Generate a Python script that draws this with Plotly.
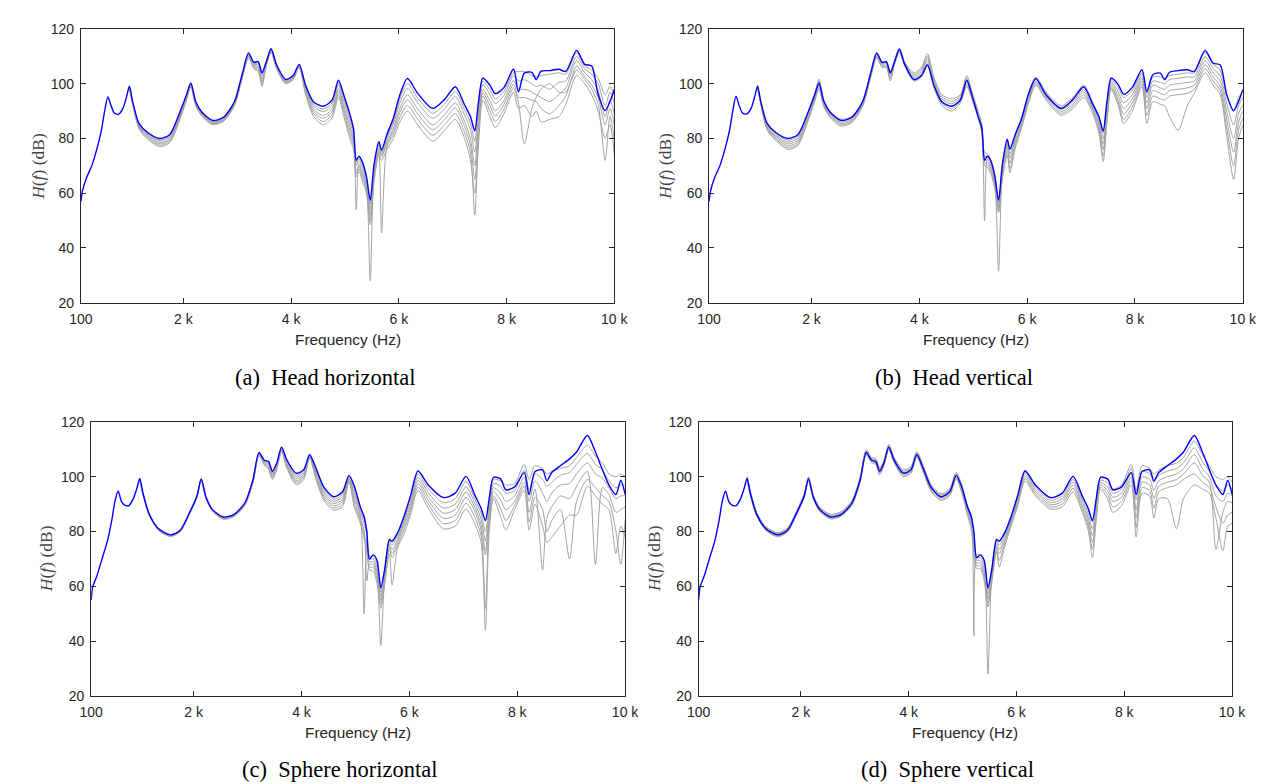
import plotly.graph_objects as go

# ---------------- data ----------------
FREQ = [100, 130, 200, 300, 400, 480, 540, 600, 660, 720,
        800, 880, 950, 1000, 1060, 1180, 1350, 1570, 1750, 1920,
        2060, 2140, 2230, 2350, 2550, 2750, 2950, 3100, 3210, 3310,
        3390, 3460, 3540, 3630, 3730, 3900, 4040, 4150, 4270, 4420,
        4600, 4760, 4880, 4980, 5090, 5160, 5210, 5260, 5330, 5400,
        5470, 5540, 5630, 5680, 5780, 5900, 6020, 6160, 6350, 6630,
        6850, 7050, 7220, 7330, 7410, 7480, 7560, 7690, 7790, 7950,
        8130, 8220, 8330, 8470, 8550, 8640, 8800, 8970, 9100, 9300,
        9450, 9580, 9700, 9830, 9920, 10000]
GRAY_START = 13  # grey curves are given from 1000 Hz upward (identical to blue below)

X_TICKS = [100, 2000, 4000, 6000, 8000, 10000]
X_TICK_TEXT = ["100", "2 k", "4 k", "6 k", "8 k", "10 k"]
Y_TICKS = [20, 40, 60, 80, 100, 120]

BLUE_A = [57.0, 61.0, 65.5, 70.0, 76.5, 83.0, 90.0, 95.2, 92.0, 89.3,
          88.9, 91.0, 95.5, 99.1, 93.5, 85.4, 82.0, 80.0, 81.5, 88.8,
          96.0, 100.3, 93.5, 89.5, 86.6, 87.8, 93.5, 104.0, 111.3, 107.8,
          108.1, 104.0, 108.0, 112.8, 107.0, 101.6, 103.0, 107.1, 99.5, 93.3,
          91.8, 94.0, 101.3, 95.8, 89.0, 83.5, 72.0, 73.5, 71.1, 66.0,
          57.4, 70.5, 78.8, 75.8, 81.5, 87.5, 96.0, 101.9, 96.5, 91.0,
          94.3, 98.9, 92.3, 88.0, 82.8, 93.5, 102.1, 99.5, 96.4, 98.6,
          105.4, 97.0, 103.9, 104.2, 101.5, 104.6, 104.8, 105.3, 104.5, 112.2,
          107.1, 106.5, 96.1, 90.2, 93.5, 97.9]

BLUE_B = [57.0, 61.0, 65.5, 70.0, 76.5, 83.0, 90.0, 95.5, 92.0, 89.3,
          89.0, 91.0, 95.5, 99.1, 93.5, 85.4, 82.0, 80.0, 81.5, 88.8,
          96.0, 100.3, 93.5, 89.5, 86.6, 87.8, 93.5, 104.0, 111.2, 107.8,
          108.0, 104.0, 108.0, 112.6, 107.0, 101.5, 103.0, 106.9, 99.5, 93.3,
          91.8, 94.0, 101.3, 95.5, 88.0, 83.8, 72.0, 73.5, 71.7, 66.3,
          57.4, 70.5, 79.7, 76.1, 81.5, 87.5, 96.0, 101.9, 96.0, 91.0,
          94.3, 98.9, 92.4, 88.0, 82.8, 93.5, 102.1, 99.7, 96.2, 98.7,
          105.1, 97.1, 103.3, 103.9, 101.5, 104.2, 104.8, 105.1, 104.5, 112.2,
          107.5, 106.9, 96.1, 90.2, 93.5, 97.9]

BLUE_C = [55.0, 60.0, 63.5, 70.0, 76.5, 84.0, 91.0, 94.8, 91.0, 89.6,
          89.5, 92.0, 96.0, 99.4, 94.0, 86.2, 81.0, 78.8, 80.5, 86.8,
          93.0, 99.2, 92.5, 88.0, 85.3, 86.3, 90.5, 99.0, 108.8, 106.0,
          105.5, 102.0, 105.0, 110.8, 106.0, 101.3, 102.5, 108.0, 103.0, 96.0,
          92.7, 94.5, 100.5, 96.5, 89.0, 85.5, 80.0, 70.0, 71.5, 69.5,
          59.5, 66.0, 77.0, 76.5, 79.5, 85.5, 93.0, 102.1, 97.0, 92.4,
          94.0, 100.1, 93.0, 88.5, 84.0, 92.0, 99.8, 99.2, 95.2, 96.3,
          101.5, 93.5, 101.9, 102.5, 98.5, 101.5, 104.0, 106.5, 109.0, 115.0,
          109.0, 102.5, 97.0, 93.5, 98.7, 93.6]

BLUE_D = [55.0, 60.0, 63.5, 70.0, 76.5, 84.0, 91.0, 94.8, 91.0, 89.6,
          89.5, 92.0, 96.0, 99.4, 94.0, 86.2, 81.0, 78.8, 80.5, 86.8,
          93.0, 99.2, 92.5, 88.0, 85.3, 86.3, 90.5, 99.0, 108.8, 106.0,
          105.5, 102.0, 105.0, 110.8, 106.0, 101.3, 102.5, 108.0, 103.0, 96.0,
          92.7, 94.5, 100.5, 96.5, 89.0, 85.5, 80.0, 70.5, 71.5, 69.5,
          59.5, 66.0, 77.0, 76.5, 79.5, 85.5, 93.0, 102.1, 97.0, 92.4,
          94.0, 100.1, 93.0, 88.5, 84.0, 92.0, 99.8, 99.2, 95.2, 96.3,
          101.5, 93.5, 101.9, 102.5, 98.5, 101.5, 104.0, 106.5, 109.0, 115.0,
          109.0, 102.5, 97.0, 93.5, 98.7, 93.6]

# rows: one row per frequency (from 1000 Hz), columns: six grey curves
GRAY_A = [
    [99.0, 98.9, 98.8, 98.7, 98.6, 98.5], [93.3, 93.2, 93.0, 92.8, 92.7, 92.5],
    [85.1, 84.8, 84.5, 84.2, 83.8, 83.5], [81.6, 81.2, 80.8, 80.4, 80.0, 79.5],
    [79.5, 79.1, 78.5, 78.0, 77.5, 77.0], [81.0, 80.6, 80.0, 79.5, 79.0, 78.5],
    [88.4, 88.0, 87.4, 87.0, 86.5, 86.0], [95.7, 95.4, 95.0, 94.7, 94.4, 94.0],
    [100.1, 99.9, 99.7, 99.5, 99.2, 99.0], [93.3, 93.0, 92.8, 92.5, 92.3, 92.0],
    [89.3, 89.0, 88.8, 88.5, 88.3, 88.0], [86.4, 86.1, 85.8, 85.5, 85.3, 85.0],
    [87.6, 87.3, 87.0, 86.8, 86.5, 86.3], [93.3, 93.0, 92.8, 92.5, 92.3, 92.0],
    [103.8, 103.5, 103.3, 103.0, 102.8, 102.5], [111.0, 110.8, 110.4, 110.1, 109.8, 109.5],
    [107.5, 107.1, 106.7, 106.3, 105.9, 105.5], [107.6, 107.0, 106.3, 105.8, 105.1, 104.5],
    [103.3, 102.5, 101.5, 100.8, 99.9, 99.0], [107.8, 107.5, 107.3, 107.0, 106.8, 106.5],
    [112.6, 112.4, 112.2, 112.0, 111.7, 111.5], [106.8, 106.5, 106.3, 106.0, 105.8, 105.5],
    [101.4, 101.1, 100.8, 100.6, 100.3, 100.0], [102.8, 102.5, 102.3, 102.0, 101.8, 101.5],
    [106.9, 106.8, 106.6, 106.4, 106.2, 106.0], [99.0, 98.5, 97.8, 97.2, 96.6, 96.0],
    [92.5, 91.7, 90.7, 89.9, 89.0, 88.0], [90.8, 89.8, 88.4, 87.4, 86.2, 85.0],
    [93.0, 92.0, 90.8, 89.8, 88.7, 87.5], [100.4, 99.4, 98.2, 97.2, 96.1, 95.0],
    [94.6, 93.5, 91.9, 90.7, 89.4, 88.0], [87.7, 86.3, 84.5, 83.2, 81.6, 80.0],
    [82.4, 81.3, 79.8, 78.6, 77.3, 76.0], [71.1, 70.2, 54.0, 68.1, 67.1, 66.0],
    [72.7, 71.9, 70.8, 69.9, 69.0, 68.0], [70.0, 69.0, 67.6, 66.5, 65.3, 64.0],
    [65.1, 64.2, 63.0, 62.1, 61.1, 60.0], [56.0, 54.0, 52.0, 28.0, 50.0, 48.5],
    [69.5, 68.5, 67.3, 66.3, 65.3, 64.0], [78.1, 77.4, 76.4, 75.7, 74.9, 74.0],
    [75.2, 74.6, 73.9, 73.3, 45.5, 72.0], [80.7, 79.9, 78.8, 77.9, 77.0, 76.0],
    [86.4, 85.3, 83.8, 82.6, 81.4, 80.0], [94.5, 93.0, 91.0, 89.5, 87.8, 86.0],
    [100.1, 98.3, 96.0, 94.2, 92.1, 90.0], [94.8, 93.1, 90.8, 89.0, 87.1, 85.0],
    [89.2, 87.4, 85.0, 83.2, 81.2, 79.0], [92.6, 90.9, 88.7, 86.9, 85.0, 83.0],
    [97.1, 95.3, 93.0, 91.2, 89.1, 87.0], [90.5, 88.6, 86.2, 84.3, 82.2, 80.0],
    [85.6, 83.2, 80.0, 77.6, 74.9, 72.0], [79.0, 75.0, 70.0, 65.0, 52.0, 60.0],
    [91.2, 88.9, 85.8, 83.4, 80.8, 78.0], [100.9, 99.7, 98.0, 96.8, 95.5, 94.0],
    [97.8, 96.1, 93.8, 92.0, 90.1, 88.0], [94.5, 92.7, 90.2, 88.3, 86.2, 84.0],
    [97.2, 95.7, 93.8, 92.4, 90.7, 89.0], [104.1, 102.9, 101.2, 99.9, 98.5, 97.0],
    [104.5, 101.0, 98.0, 95.0, 93.0, 91.0], [104.5, 101.5, 98.0, 95.0, 78.0, 92.0],
    [103.0, 100.0, 97.0, 94.0, 91.0, 88.0], [102.5, 99.0, 96.0, 93.5, 95.0, 90.0],
    [103.0, 99.5, 95.0, 91.0, 98.0, 86.0], [103.5, 98.0, 93.5, 89.0, 100.0, 87.0],
    [104.0, 100.5, 96.0, 92.0, 97.0, 88.0], [103.5, 101.0, 98.5, 95.5, 97.0, 92.5],
    [111.5, 110.0, 108.5, 106.5, 105.0, 103.0], [106.5, 105.5, 104.0, 102.5, 101.5, 100.0],
    [105.0, 103.5, 101.5, 99.5, 98.0, 96.0], [102.0, 100.0, 97.5, 95.0, 92.5, 90.0],
    [96.0, 92.0, 88.0, 85.0, 72.0, 80.0], [99.0, 97.0, 94.0, 91.0, 88.0, 85.0],
    [96.0, 93.0, 89.0, 85.0, 80.0, 74.0],
]

GRAY_B = [
    [99.5, 99.3, 99.0, 98.8, 98.6, 98.5], [93.4, 93.2, 93.0, 92.8, 92.6, 92.5],
    [85.0, 84.6, 84.2, 83.8, 83.4, 83.0], [81.5, 81.0, 80.5, 80.0, 79.5, 79.0],
    [79.4, 78.7, 78.0, 77.3, 76.6, 76.0], [80.9, 80.2, 79.5, 78.8, 78.1, 77.5],
    [88.5, 87.9, 87.2, 86.6, 86.0, 85.5], [96.5, 96.0, 95.2, 94.6, 94.0, 93.5],
    [101.7, 101.0, 100.2, 99.4, 98.7, 98.0], [94.0, 93.5, 93.0, 92.5, 92.0, 91.5],
    [89.8, 89.3, 88.8, 88.4, 88.0, 87.5], [87.0, 86.5, 86.0, 85.5, 85.0, 84.5],
    [88.0, 87.5, 87.0, 86.6, 86.2, 85.8], [93.8, 93.4, 93.0, 92.6, 92.2, 91.8],
    [104.5, 104.0, 103.6, 103.2, 102.8, 102.5], [111.5, 111.0, 110.6, 110.2, 109.8, 109.5],
    [108.0, 107.6, 107.2, 106.8, 106.4, 106.0], [108.3, 107.8, 107.4, 106.9, 106.4, 106.0],
    [104.5, 103.8, 103.1, 102.4, 101.7, 101.0], [108.5, 108.2, 107.9, 107.6, 107.3, 107.0],
    [113.0, 112.7, 112.4, 112.1, 111.8, 111.5], [108.0, 107.7, 107.4, 107.1, 106.8, 106.5],
    [104.0, 103.4, 102.8, 102.2, 101.6, 101.0], [106.0, 105.3, 104.6, 103.9, 103.2, 102.5],
    [111.0, 110.1, 109.2, 108.3, 107.4, 106.5], [102.5, 101.7, 100.9, 100.1, 99.3, 98.5],
    [96.0, 95.2, 94.4, 93.6, 92.8, 92.0], [94.5, 93.6, 92.7, 91.8, 90.9, 90.0],
    [96.0, 95.4, 94.8, 94.2, 93.6, 93.0], [103.0, 102.2, 101.4, 100.6, 99.8, 99.0],
    [97.0, 96.4, 95.8, 95.2, 94.6, 94.0], [90.0, 89.5, 89.0, 88.5, 88.0, 87.5],
    [85.0, 84.4, 83.8, 83.2, 82.6, 82.0], [75.0, 73.5, 50.0, 72.5, 71.0, 70.0],
    [74.5, 73.5, 72.5, 71.5, 70.5, 69.5], [72.0, 71.0, 70.0, 69.0, 68.0, 67.0],
    [66.5, 65.5, 64.5, 63.5, 62.5, 61.5], [56.5, 55.5, 31.5, 54.5, 53.5, 53.0],
    [70.0, 69.0, 68.0, 67.0, 66.0, 65.0], [80.0, 79.0, 78.0, 77.0, 75.5, 74.0],
    [76.0, 74.5, 73.0, 71.0, 69.0, 67.5], [81.5, 80.5, 79.5, 78.5, 77.5, 76.5],
    [87.5, 86.8, 86.0, 85.3, 84.6, 84.0], [96.0, 95.3, 94.6, 94.0, 93.3, 92.5],
    [102.5, 101.8, 101.1, 100.5, 100.0, 99.5], [97.0, 96.4, 95.8, 95.2, 94.6, 94.0],
    [92.0, 91.3, 90.6, 89.9, 89.2, 88.5], [95.0, 94.2, 93.4, 92.6, 91.8, 91.0],
    [99.5, 98.6, 97.8, 96.9, 96.0, 95.0], [93.0, 92.2, 91.4, 90.6, 89.8, 89.0],
    [88.0, 86.8, 85.6, 84.4, 83.2, 82.0], [82.0, 80.0, 78.0, 76.0, 73.5, 71.5],
    [93.0, 91.5, 90.0, 88.5, 87.0, 86.0], [101.5, 100.8, 100.0, 99.2, 98.5, 98.0],
    [98.5, 97.0, 95.5, 94.0, 93.0, 92.0], [95.0, 93.0, 91.0, 89.0, 87.0, 85.5],
    [97.5, 96.0, 94.5, 93.0, 91.5, 90.0], [104.0, 103.0, 102.0, 101.0, 100.0, 99.0],
    [96.5, 95.0, 93.0, 91.0, 88.5, 85.5], [102.5, 101.0, 99.5, 97.5, 95.5, 93.5],
    [102.5, 100.5, 98.5, 96.5, 94.5, 92.5], [102.0, 100.0, 98.0, 96.0, 94.0, 92.0],
    [103.0, 101.5, 99.5, 97.5, 95.5, 88.0], [103.5, 102.0, 100.0, 98.0, 96.0, 83.0],
    [104.0, 102.5, 100.5, 98.5, 96.5, 92.0], [104.0, 102.5, 101.0, 99.5, 98.0, 96.5],
    [111.5, 110.0, 108.5, 107.0, 105.5, 104.0], [107.0, 105.5, 104.0, 102.5, 101.0, 99.5],
    [105.0, 103.0, 101.0, 99.0, 97.5, 96.0], [96.0, 93.0, 90.0, 87.0, 84.0, 81.0],
    [90.0, 85.0, 80.0, 75.0, 70.0, 65.0], [95.0, 92.0, 89.0, 86.0, 83.0, 80.0],
    [97.0, 95.0, 92.5, 90.0, 87.5, 85.0],
]

GRAY_C = [
    [99.3, 99.2, 99.1, 99.0, 98.9, 98.8], [93.9, 93.8, 93.7, 93.6, 93.5, 93.4],
    [86.1, 86.0, 85.9, 85.8, 85.7, 85.6], [80.9, 80.8, 80.7, 80.6, 80.5, 80.4],
    [78.7, 78.6, 78.5, 78.4, 78.3, 78.2], [80.4, 80.3, 80.2, 80.1, 80.0, 79.9],
    [86.7, 86.6, 86.5, 86.4, 86.3, 86.2], [92.9, 92.8, 92.7, 92.6, 92.5, 92.4],
    [99.1, 99.0, 98.9, 98.8, 98.7, 98.6], [92.4, 92.3, 92.2, 92.1, 92.0, 91.9],
    [87.9, 87.8, 87.7, 87.6, 87.5, 87.4], [85.2, 85.0, 84.9, 84.8, 84.7, 84.5],
    [86.2, 86.0, 85.9, 85.8, 85.7, 85.5], [90.4, 90.2, 90.0, 89.9, 89.7, 89.5],
    [98.8, 98.6, 98.4, 98.2, 98.0, 97.8], [108.6, 108.4, 108.2, 108.0, 107.8, 107.6],
    [105.7, 105.4, 105.1, 104.8, 104.5, 104.2], [105.0, 104.5, 104.0, 103.5, 103.0, 102.5],
    [101.5, 101.0, 100.5, 100.0, 99.5, 99.0], [104.6, 104.2, 103.8, 103.4, 103.0, 102.6],
    [110.5, 110.2, 109.9, 109.6, 109.3, 109.0], [105.5, 105.0, 104.5, 104.0, 103.5, 103.0],
    [100.6, 99.9, 99.2, 98.5, 97.8, 97.1], [101.9, 101.3, 100.7, 100.1, 99.5, 98.9],
    [107.8, 107.6, 107.4, 107.2, 107.0, 106.8], [102.3, 101.6, 100.9, 100.2, 99.5, 98.8],
    [95.2, 94.4, 93.6, 92.8, 92.0, 91.2], [91.8, 91.0, 90.2, 89.4, 88.6, 87.8],
    [93.6, 92.7, 91.8, 90.9, 90.0, 89.1], [100.1, 99.7, 99.3, 98.9, 98.5, 98.1],
    [95.2, 93.9, 92.6, 91.3, 90.0, 88.7], [88.0, 87.0, 86.0, 85.0, 84.0, 83.0],
    [84.5, 83.0, 50.0, 80.5, 79.0, 77.5], [81.0, 79.0, 77.0, 62.0, 75.0, 73.0],
    [71.0, 70.0, 69.0, 68.0, 67.0, 66.0], [71.0, 70.0, 69.0, 68.0, 67.0, 65.5],
    [68.5, 67.0, 65.5, 64.0, 62.5, 61.0], [58.0, 56.5, 55.0, 38.5, 53.5, 52.0],
    [65.5, 64.5, 63.5, 62.5, 61.5, 60.5], [77.5, 76.5, 75.5, 74.5, 73.5, 72.0],
    [76.0, 75.0, 73.5, 72.0, 70.5, 60.5], [79.0, 78.0, 77.0, 76.0, 75.0, 74.0],
    [85.0, 84.0, 83.0, 82.0, 80.5, 79.0], [92.0, 90.8, 89.6, 88.4, 87.2, 86.0],
    [101.0, 99.8, 98.6, 97.4, 96.2, 95.0], [95.6, 94.2, 92.8, 91.4, 90.0, 88.5],
    [90.5, 88.6, 86.7, 84.8, 82.9, 81.0], [92.0, 90.0, 88.0, 86.0, 84.0, 82.0],
    [98.2, 96.3, 94.4, 92.5, 90.4, 88.2], [91.5, 90.0, 88.5, 87.0, 85.0, 82.5],
    [86.5, 84.5, 82.5, 80.5, 78.5, 76.0], [80.0, 76.5, 73.0, 52.0, 71.5, 44.0],
    [90.0, 88.0, 86.0, 84.0, 82.0, 80.0], [99.0, 97.5, 96.0, 94.5, 93.0, 92.0],
    [98.5, 96.5, 94.0, 91.5, 88.5, 85.5], [97.0, 94.0, 91.0, 88.0, 84.0, 80.5],
    [97.5, 95.0, 93.0, 91.0, 89.5, 88.0], [104.5, 102.5, 100.0, 98.0, 96.5, 95.0],
    [99.0, 95.0, 91.0, 87.0, 83.5, 80.5], [104.0, 101.0, 98.5, 95.5, 92.5, 90.0],
    [103.0, 99.0, 94.0, 66.0, 88.0, 82.0], [101.0, 96.5, 91.0, 85.0, 80.0, 76.0],
    [102.0, 98.0, 94.0, 89.0, 84.0, 78.0], [103.0, 100.5, 97.0, 93.0, 88.0, 82.0],
    [104.0, 101.5, 97.5, 92.0, 70.0, 86.0], [107.0, 104.5, 101.0, 96.5, 91.0, 86.0],
    [111.5, 108.5, 105.0, 102.0, 99.0, 96.5], [107.5, 104.5, 101.0, 68.0, 96.0, 93.0],
    [105.0, 102.5, 99.5, 96.0, 93.0, 90.0], [101.0, 98.5, 96.0, 93.5, 91.0, 88.0],
    [100.0, 96.0, 92.0, 87.0, 80.0, 72.0], [101.0, 97.0, 93.0, 88.0, 68.0, 82.0],
    [100.0, 97.0, 93.0, 89.0, 84.0, 78.0],
]

GRAY_D = [
    [100.2, 99.9, 99.6, 99.3, 99.0, 98.7], [94.8, 94.5, 94.2, 93.9, 93.6, 93.3],
    [87.0, 86.7, 86.4, 86.1, 85.8, 85.5], [81.8, 81.5, 81.2, 80.9, 80.6, 80.3],
    [79.6, 79.3, 79.0, 78.7, 78.4, 78.1], [81.3, 81.0, 80.7, 80.4, 80.1, 79.8],
    [87.6, 87.3, 87.0, 86.7, 86.4, 86.1], [93.8, 93.5, 93.2, 92.9, 92.6, 92.3],
    [100.0, 99.7, 99.4, 99.1, 98.8, 98.5], [93.3, 93.0, 92.7, 92.4, 92.1, 91.8],
    [88.9, 88.6, 88.2, 87.9, 87.6, 87.3], [86.3, 86.0, 85.6, 85.3, 85.0, 84.6],
    [87.3, 87.0, 86.6, 86.3, 86.0, 85.6], [91.5, 91.1, 90.8, 90.4, 90.1, 89.7],
    [100.0, 99.6, 99.3, 98.9, 98.6, 98.2], [109.8, 109.4, 109.1, 108.7, 108.4, 108.0],
    [107.0, 106.6, 106.3, 105.9, 105.5, 105.1], [106.6, 106.2, 105.8, 105.3, 104.9, 104.4],
    [103.2, 102.7, 102.2, 101.7, 101.2, 100.7], [106.0, 105.6, 105.2, 104.8, 104.4, 104.0],
    [111.8, 111.4, 111.0, 110.6, 110.2, 109.8], [107.0, 106.6, 106.2, 105.8, 105.4, 105.0],
    [102.5, 102.0, 101.5, 101.0, 100.5, 100.0], [103.7, 103.2, 102.7, 102.2, 101.7, 101.2],
    [109.2, 108.8, 108.4, 108.0, 107.6, 107.2], [104.0, 103.5, 103.0, 102.5, 102.0, 101.5],
    [97.0, 96.5, 96.0, 95.5, 95.0, 94.5], [93.8, 93.3, 92.8, 92.3, 91.8, 91.3],
    [95.6, 95.1, 94.6, 94.1, 93.6, 93.1], [101.6, 101.1, 100.6, 100.1, 99.6, 99.1],
    [97.3, 96.7, 96.1, 95.5, 94.9, 94.3], [89.5, 88.8, 88.1, 87.4, 86.7, 86.0],
    [86.0, 85.0, 84.0, 83.0, 82.0, 81.0], [42.0, 79.0, 77.0, 75.0, 73.0, 71.0],
    [71.5, 70.5, 69.5, 68.5, 67.5, 66.5], [71.5, 70.5, 69.5, 68.5, 67.5, 66.5],
    [69.0, 68.0, 66.5, 65.0, 63.5, 62.0], [58.5, 57.0, 28.0, 55.5, 54.0, 52.5],
    [66.0, 65.0, 64.0, 63.0, 62.0, 61.0], [77.5, 76.5, 75.5, 74.5, 73.5, 72.5],
    [76.5, 75.0, 73.5, 72.0, 69.5, 67.0], [79.5, 78.5, 77.5, 76.5, 75.5, 74.5],
    [85.5, 84.8, 84.1, 83.4, 82.7, 82.0], [93.0, 92.2, 91.4, 90.6, 89.8, 89.0],
    [102.3, 101.6, 100.8, 100.0, 99.2, 98.4], [97.0, 96.2, 95.4, 94.6, 93.8, 93.0],
    [92.2, 91.4, 90.6, 89.8, 89.0, 88.2], [94.0, 93.0, 92.0, 91.0, 90.0, 89.0],
    [100.0, 99.0, 98.0, 97.0, 95.8, 94.5], [93.0, 91.8, 90.6, 89.4, 88.2, 87.0],
    [88.0, 86.5, 85.0, 83.5, 82.0, 80.5], [83.5, 81.0, 78.5, 76.0, 73.5, 70.5],
    [91.5, 90.0, 88.5, 87.0, 85.5, 84.0], [99.5, 98.7, 97.9, 97.1, 96.3, 95.5],
    [99.0, 97.6, 96.2, 94.8, 93.4, 92.0], [95.5, 94.0, 92.5, 91.0, 89.0, 87.0],
    [97.0, 95.5, 94.0, 92.5, 91.0, 89.5], [104.5, 103.0, 101.5, 100.0, 98.5, 97.0],
    [95.0, 91.5, 88.0, 85.0, 81.5, 78.0], [104.0, 102.0, 100.0, 98.0, 96.0, 94.0],
    [103.0, 101.0, 99.0, 97.0, 95.0, 93.0], [101.0, 98.0, 95.0, 92.0, 88.5, 85.0],
    [102.5, 100.5, 98.5, 96.5, 94.5, 92.0], [104.0, 102.0, 100.0, 98.0, 96.0, 92.0],
    [105.0, 103.0, 101.0, 99.0, 97.0, 81.0], [107.0, 105.0, 103.0, 101.0, 99.0, 92.0],
    [113.0, 110.5, 108.0, 105.0, 101.0, 97.0], [108.0, 105.5, 103.0, 100.5, 98.0, 95.5],
    [104.0, 102.0, 100.0, 98.0, 96.0, 94.0], [100.0, 97.0, 93.0, 73.5, 89.0, 85.0],
    [99.0, 95.0, 91.0, 87.0, 83.0, 73.0], [100.0, 97.0, 94.0, 91.0, 86.0, 82.0],
    [98.0, 95.5, 93.0, 90.5, 87.0, 83.0],
]

CAPTIONS = ["(a)\u2002Head horizontal", "(b)\u2002Head vertical",
            "(c)\u2002Sphere horizontal", "(d)\u2002Sphere vertical"]

for g in (GRAY_A, GRAY_B, GRAY_C, GRAY_D):
    assert len(g) == len(FREQ) - GRAY_START, len(g)
for b in (BLUE_A, BLUE_B, BLUE_C, BLUE_D):
    assert len(b) == len(FREQ), len(b)

# ---------------- layout (pixels) ----------------
W, H = 1274, 784
PANELS = [
    dict(blue=BLUE_A, gray=GRAY_A, x0=62.2, x1=606.7, yt=13.3, yb=292.7, ylx=18.3, capx=312, capy=369),
    dict(blue=BLUE_B, gray=GRAY_B, x0=703.4, x1=1248.3, yt=13.3, yb=292.7, ylx=658.3, capx=953, capy=369),
    dict(blue=BLUE_C, gray=GRAY_C, x0=72.7, x1=617.7, yt=414.3, yb=694.3, ylx=26.7, capx=327, capy=769.5),
    dict(blue=BLUE_D, gray=GRAY_D, x0=692.7, x1=1237.3, yt=414.3, yb=694.3, ylx=647.3, capx=947, capy=769.5),
]

AX_COLOR = "#262626"
SANS = "Liberation Sans, Arial, sans-serif"
SERIF = "Liberation Serif, Times New Roman, serif"

fig = go.Figure()
annotations = []
layout_axes = {}
for i, p in enumerate(PANELS):
    n = "" if i == 0 else str(i + 1)
    xa, ya = "x" + n, "y" + n
    gray_x = FREQ[GRAY_START:]
    for curve in zip(*p["gray"]):
        fig.add_trace(go.Scatter(
            x=gray_x, y=list(curve), mode="lines", xaxis=xa, yaxis=ya,
            line=dict(color="#a3a3a3", width=1, shape="spline", smoothing=0.75),
            hoverinfo="skip", showlegend=False))
    fig.add_trace(go.Scatter(
        x=FREQ, y=p["blue"], mode="lines", xaxis=xa, yaxis=ya,
        line=dict(color="#0000ff", width=1.4, shape="spline", smoothing=0.75),
        hoverinfo="skip", showlegend=False))

    common = dict(showline=True, linecolor=AX_COLOR, linewidth=1, mirror="ticks",
                  ticks="inside", ticklen=5, tickwidth=1, tickcolor=AX_COLOR,
                  showgrid=False, zeroline=False,
                  tickfont=dict(family=SANS, size=14, color=AX_COLOR))
    layout_axes["xaxis" + n] = dict(
        common, domain=[p["x0"] / W, p["x1"] / W], range=[100, 10000],
        tickmode="array", tickvals=X_TICKS, ticktext=X_TICK_TEXT, anchor=ya,
        ticklabelstandoff=3)
    layout_axes["yaxis" + n] = dict(
        common, domain=[1 - p["yb"] / H, 1 - p["yt"] / H], range=[20, 120],
        tickmode="array", tickvals=Y_TICKS, anchor=xa, ticklabelstandoff=3)

    cx = (p["x0"] + p["x1"]) / 2
    annotations.append(dict(
        text="Frequency (Hz)", x=cx / W, y=1 - (p["yb"] + 37.4) / H,
        xref="paper", yref="paper", xanchor="center", yanchor="middle",
        showarrow=False, font=dict(family=SANS, size=15.4, color=AX_COLOR)))
    annotations.append(dict(
        text="<i>H</i>(<i>f</i>) (dB)", x=p["ylx"] / W,
        y=1 - (p["yt"] + p["yb"]) / 2 / H, xref="paper", yref="paper",
        xanchor="center", yanchor="middle", textangle=-90, showarrow=False,
        font=dict(family=SERIF, size=17.5, color="#444444")))
    annotations.append(dict(
        text=CAPTIONS[i], x=p["capx"] / W, y=1 - p["capy"] / H,
        xref="paper", yref="paper", xanchor="center", yanchor="middle",
        showarrow=False, font=dict(family=SERIF, size=22.5, color="#000000")))

fig.update_layout(
    width=W, height=H, autosize=False,
    margin=dict(l=0, r=0, t=0, b=0),
    paper_bgcolor="white", plot_bgcolor="white",
    showlegend=False, annotations=annotations, **layout_axes)

fig.write_html("out.html")
